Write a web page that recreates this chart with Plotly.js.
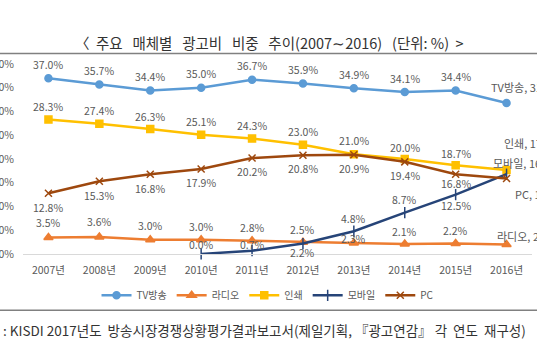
<!DOCTYPE html>
<html>
<head>
<meta charset="utf-8">
<script src="https://cdn.plot.ly/plotly-3.0.1.min.js"></script>
<style>
  html, body { margin: 0; padding: 0; background: #ffffff; overflow: hidden; width: 537px; height: 360px; }
  #chart { position: absolute; left: -30px; top: 0; width: 660px; height: 360px; }
</style>
</head>
<body>
<div id="chart"></div>
<script>
// ---------- data ----------
const years = ['2007년','2008년','2009년','2010년','2011년','2012년','2013년','2014년','2015년','2016년'];
const seriesNames = ['TV방송','라디오','인쇄','모바일','PC'];
const tv     = [37.0, 35.7, 34.4, 35.0, 36.7, 35.9, 34.9, 34.1, 34.4, 31.8];
const radio  = [3.5, 3.6, 3.0, 3.0, 2.8, 2.5, 2.3, 2.1, 2.2, 2.0];
const print  = [28.3, 27.4, 26.3, 25.1, 24.3, 23.0, 21.0, 20.0, 18.7, 17.7];
const mobile = [null, null, null, 0.0, 0.7, 2.2, 4.8, 8.7, 12.5, 16.8];
const pc     = [12.8, 15.3, 16.8, 17.9, 20.2, 20.8, 20.9, 19.4, 16.8, 15.9];
const yTicks = [0, 5, 10, 15, 20, 25, 30, 35, 40];
const yTickLabels = ['0.0%', '5.0%', '10.0%', '15.0%', '20.0%', '25.0%', '30.0%', '35.0%', '40.0%'];
const NB = '\u00A0';
const G = NB + NB + NB;
const titleText = '〈' + NB + NB + '주요' + G + '매체별' + G + '광고비' + G + '비중' + G + '추이(2007∼2016)' + G + '(단위:' + NB + '%)' + NB + NB + '>';
const sourceText = ':' + NB + 'KISDI' + NB + '2017년도' + NB + NB + '방송시장경쟁상황평가결과보고서(제일기획,' + NB + '『광고연감』' + NB + '각' + NB + NB + '연도' + NB + NB + '재구성)';

// ---------- styles ----------
const FONT = '"Noto Sans CJK KR", "Noto Sans", sans-serif';
const LABEL = '#595959';
const styles = [
  {color: '#5B9BD5', symbol: 'circle', size: 7},
  {color: '#ED7D31', symbol: 'triangle-up', size: 8},
  {color: '#FFC000', symbol: 'square', size: 7},
  {color: '#264478', symbol: 'line-ns-open', size: 8},
  {color: '#9E480E', symbol: 'x-thin-open', size: 7}
];
const allSeries = [tv, radio, print, mobile, pc];
// per-point label vertical offsets (px, + = up)
const labelShift = [
  [14,14,14,14,14,14,14,14,14],
  [15,15,14,13,13,13,5,13,13],
  [13,13,13,13,13,13,14,12,12],
  [0,0,0,10,6,-9,13,13,-11],
  [-14,-14,-14,-14,-13,-13,-14,-14,-9]
];
// end-of-line labels: [xshift, yshift]
const endShift = [[-18,16],[-12,9],[-5,27],[-16,11],[6,-16]];

// geometry (div pixels; div is shifted 30px left of the page)
const W = 660, H = 360, OFF = 30;
const L = 52.5, R = 97.5, T = 63.5, B = 105.5;
const pw = W - L - R, ph = H - T - B;
const px = x => (x + OFF - L) / pw;        // page x -> paper
const py = y => (H - B - y) / ph;          // page y -> paper

const traces = allSeries.map((vals, i) => ({
  type: 'scatter',
  mode: 'lines+markers',
  name: seriesNames[i],
  x: years,
  y: vals,
  cliponaxis: false,
  line: {color: styles[i].color, width: 2.5},
  marker: {color: styles[i].color, symbol: styles[i].symbol, size: styles[i].size,
           line: {color: styles[i].color, width: 1.5}},
  connectgaps: false
}));

const annotations = [];
allSeries.forEach((vals, i) => {
  vals.forEach((v, j) => {
    if (v === null) return;
    if (j === vals.length - 1) {
      annotations.push({
        x: years[j], y: v, xref: 'x', yref: 'y', showarrow: false,
        xanchor: 'left', yanchor: 'middle',
        xshift: endShift[i][0], yshift: endShift[i][1],
        text: seriesNames[i] + ', ' + v.toFixed(1) + '%',
        font: {family: FONT, size: 11, color: LABEL}
      });
    } else {
      annotations.push({
        x: years[j], y: v, xref: 'x', yref: 'y', showarrow: false,
        xanchor: 'center', yanchor: 'middle', yshift: labelShift[i][j],
        text: v.toFixed(1) + '%',
        font: {family: FONT, size: 10.5, color: LABEL}
      });
    }
  });
});
annotations.push({
  xref: 'paper', yref: 'paper', x: px(269), y: py(42), showarrow: false,
  xanchor: 'center', yanchor: 'middle', text: titleText,
  font: {family: FONT, size: 14.5, color: '#333333'}
});
annotations.push({
  xref: 'paper', yref: 'paper', x: px(0), y: py(331), showarrow: false,
  xanchor: 'left', yanchor: 'middle', text: sourceText,
  font: {family: FONT, size: 13.5, color: '#333333'}
});

const shapes = [
  {type: 'line', xref: 'paper', yref: 'paper', x0: px(-5), x1: px(545), y0: py(53), y1: py(53),
   line: {color: '#808080', width: 1.5}},
  {type: 'line', xref: 'paper', yref: 'paper', x0: px(-5), x1: px(545), y0: py(311), y1: py(311),
   line: {color: '#808080', width: 1.5}}
];

const layout = {
  width: W, height: H,
  margin: {l: L, r: R, t: T, b: B, pad: 0},
  paper_bgcolor: '#ffffff', plot_bgcolor: '#ffffff',
  font: {family: FONT, color: LABEL},
  showlegend: true,
  legend: {orientation: 'h', x: px(268), xanchor: 'center', y: py(296), yanchor: 'middle',
           font: {family: FONT, size: 10, color: LABEL}, itemwidth: 30, bgcolor: 'rgba(0,0,0,0)'},
  xaxis: {type: 'category', range: [-0.5, 9.5], showgrid: false, zeroline: false,
          showline: true, linecolor: '#D9D9D9', linewidth: 1, ticks: '',
          tickfont: {family: FONT, size: 10.5, color: LABEL}, ticklabelstandoff: 6},
  yaxis: {range: [0, 40], tickmode: 'array', tickvals: yTicks, ticktext: yTickLabels,
          showgrid: false, zeroline: false, showline: false, ticks: '',
          tickfont: {family: FONT, size: 10.5, color: LABEL}, ticklabelstandoff: 8},
  annotations: annotations,
  shapes: shapes
};

Plotly.newPlot('chart', traces, layout, {staticPlot: true, displayModeBar: false});
</script>
</body>
</html>
